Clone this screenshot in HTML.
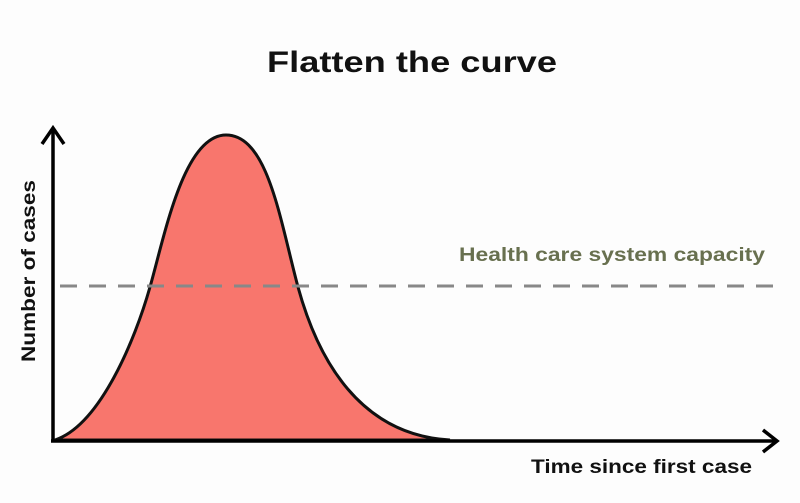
<!DOCTYPE html>
<html><head><style>
body{margin:0;background:#fff;}
svg{display:block}
</style></head><body>
<svg width="800" height="503" viewBox="0 0 800 503" xmlns="http://www.w3.org/2000/svg">
<rect width="800" height="503" fill="#fdfdfd"/>
<text x="267" y="72" textLength="290" lengthAdjust="spacingAndGlyphs" font-family="Liberation Sans, sans-serif" font-weight="bold" font-size="30" fill="#111">Flatten the curve</text>
<path d="M55,440 C100,425 135,340 150,287 C165,234 184,135 226,135 C268,135 280,220 298,287 C318,360 360,435 450,440 Z" fill="#f8766d" stroke="#111" stroke-width="3"/>
<line x1="60" y1="286" x2="778" y2="286" stroke="#888" stroke-width="3" stroke-dasharray="17,12"/>
<text x="459" y="261" textLength="306" lengthAdjust="spacingAndGlyphs" font-family="Liberation Sans, sans-serif" font-weight="bold" font-size="19" fill="#68704f">Health care system capacity</text>
<line x1="53" y1="442" x2="53" y2="128" stroke="#000" stroke-width="3.5"/>
<polyline points="42,144 53,128 64,144" fill="none" stroke="#000" stroke-width="3.5"/>
<line x1="51" y1="441" x2="776" y2="441" stroke="#000" stroke-width="3.5"/>
<polyline points="763,430 777,441 763,452" fill="none" stroke="#000" stroke-width="3.5"/>
<text x="531" y="473" textLength="221" lengthAdjust="spacingAndGlyphs" font-family="Liberation Sans, sans-serif" font-weight="bold" font-size="19" fill="#111">Time since first case</text>
<text transform="translate(35,362) rotate(-90)" textLength="182" lengthAdjust="spacingAndGlyphs" font-family="Liberation Sans, sans-serif" font-weight="bold" font-size="19" fill="#111">Number of cases</text>
</svg>
</body></html>
